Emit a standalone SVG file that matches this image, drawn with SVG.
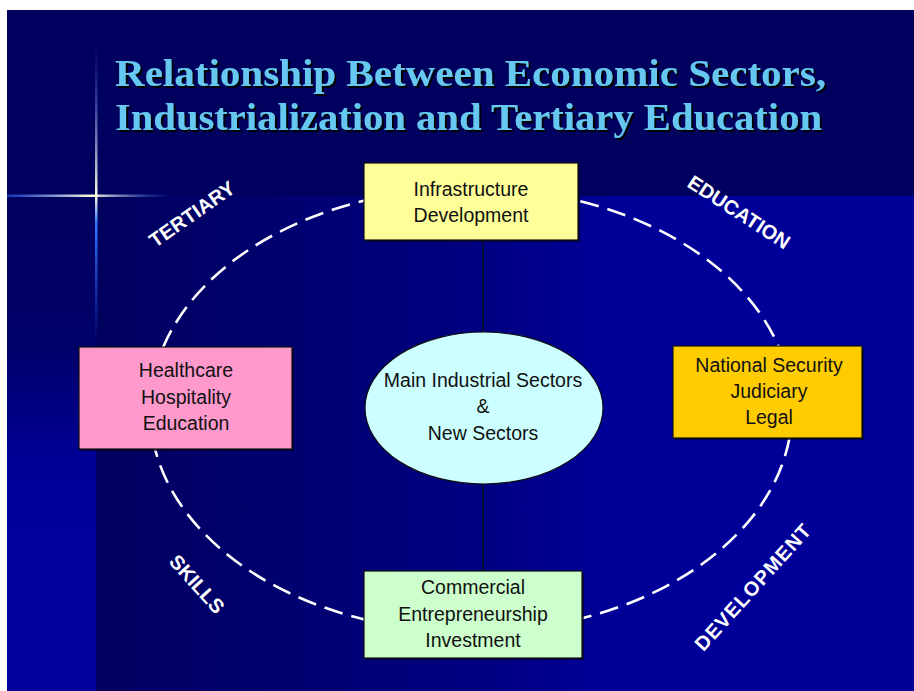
<svg xmlns="http://www.w3.org/2000/svg" width="914" height="691" viewBox="0 0 914 691">
  <defs>
    <linearGradient id="gMain" x1="96" y1="0" x2="620" y2="0" gradientUnits="userSpaceOnUse">
      <stop offset="0" stop-color="#00005e"/>
      <stop offset="0.7" stop-color="#000080"/>
      <stop offset="1" stop-color="#000099"/>
    </linearGradient>
    <linearGradient id="gLeft" x1="0" y1="196" x2="0" y2="691" gradientUnits="userSpaceOnUse">
      <stop offset="0" stop-color="#00005e"/>
      <stop offset="0.3" stop-color="#00006a"/>
      <stop offset="0.55" stop-color="#000099"/>
      <stop offset="1" stop-color="#00009c"/>
    </linearGradient>
    <linearGradient id="gSparkH" x1="7" y1="0" x2="175" y2="0" gradientUnits="userSpaceOnUse">
      <stop offset="0" stop-color="#2255ee" stop-opacity="0.6"/>
      <stop offset="0.5" stop-color="#ffffdd"/>
      <stop offset="1" stop-color="#2255ee" stop-opacity="0"/>
    </linearGradient>
    <linearGradient id="gSparkV" x1="0" y1="40" x2="0" y2="345" gradientUnits="userSpaceOnUse">
      <stop offset="0" stop-color="#2255ee" stop-opacity="0"/>
      <stop offset="0.51" stop-color="#ffffdd"/>
      <stop offset="0.6" stop-color="#3377ff"/>
      <stop offset="1" stop-color="#2255ee" stop-opacity="0"/>
    </linearGradient>
    <filter id="tshadow" x="-5%" y="-20%" width="110%" height="140%">
      <feDropShadow dx="2" dy="2" stdDeviation="0.4" flood-color="#000000" flood-opacity="1"/>
    </filter>
    <style>
      .title { font-family: "Liberation Serif", "Times New Roman", serif; font-weight: bold; font-size: 37px; fill: #66c8f0; }
      .box { stroke: #111; stroke-width: 1.2; }
      .shadow { fill: #000022; opacity: 0.7; }
      .txt { font-family: "Liberation Sans", Arial, sans-serif; font-size: 19.5px; fill: #111; text-anchor: middle; }
      .lbl { font-family: "Liberation Sans", Arial, sans-serif; font-size: 20px; font-weight: bold; fill: #fff; text-anchor: middle; }
      .conn { stroke: #111; stroke-width: 1.2; fill: none; }
    </style>
  </defs>

  <rect x="0" y="0" width="914" height="691" fill="#ffffff"/>
  <rect x="7" y="10" width="907" height="681" fill="#000099"/>
  <rect x="96" y="196" width="818" height="495" fill="url(#gMain)"/>
  <rect x="7" y="196" width="89" height="495" fill="url(#gLeft)"/>
  <rect x="7" y="10" width="907" height="186" fill="#00005e"/>
  <rect x="7" y="194.5" width="168" height="2.5" fill="url(#gSparkH)"/>
  <rect x="95" y="40" width="2.5" height="305" fill="url(#gSparkV)"/>

  <g id="title" filter="url(#tshadow)">
    <text class="title" x="115" y="86" textLength="711" lengthAdjust="spacingAndGlyphs">Relationship Between Economic Sectors,</text>
    <text class="title" x="115" y="130" textLength="707" lengthAdjust="spacingAndGlyphs">Industrialization and Tertiary Education</text>
  </g>

  <g id="ring">
    <ellipse cx="471" cy="410" rx="321" ry="222" fill="none" stroke="#ffffff" stroke-width="2.6" stroke-dasharray="19 9"/>
  </g>

  <g id="connectors">
    <line class="conn" x1="483" y1="240" x2="483" y2="333"/>
    <line class="conn" x1="483" y1="484" x2="483" y2="571"/>
  </g>

  <g id="labels">
    <text class="lbl" transform="translate(192,214) rotate(-35)" y="7">TERTIARY</text>
    <text class="lbl" transform="translate(739,212) rotate(33)" y="7">EDUCATION</text>
    <text class="lbl" transform="translate(197,584) rotate(48)" y="7">SKILLS</text>
    <text class="lbl" transform="translate(753,587) rotate(-48)" y="7" letter-spacing="1">DEVELOPMENT</text>
  </g>

  <g id="infrastructure">
    <rect class="shadow" x="366" y="165" width="214" height="77"/>
    <rect class="box" x="364" y="163" width="214" height="77" fill="#ffff99"/>
    <text class="txt" x="471" y="196">Infrastructure</text>
    <text class="txt" x="471" y="222">Development</text>
  </g>

  <g id="healthcare">
    <rect class="shadow" x="81" y="349" width="213" height="102"/>
    <rect class="box" x="79" y="347" width="213" height="102" fill="#ff99cc"/>
    <text class="txt" x="186" y="377">Healthcare</text>
    <text class="txt" x="186" y="404">Hospitality</text>
    <text class="txt" x="186" y="430">Education</text>
  </g>

  <g id="security">
    <rect class="shadow" x="675" y="348" width="189" height="92"/>
    <rect class="box" x="673" y="346" width="189" height="92" fill="#ffcc00"/>
    <text class="txt" x="769" y="372">National Security</text>
    <text class="txt" x="769" y="398">Judiciary</text>
    <text class="txt" x="769" y="424">Legal</text>
  </g>

  <g id="commercial">
    <rect class="shadow" x="366" y="573" width="218" height="87"/>
    <rect class="box" x="364" y="571" width="218" height="87" fill="#ccffcc"/>
    <text class="txt" x="473" y="594">Commercial</text>
    <text class="txt" x="473" y="621">Entrepreneurship</text>
    <text class="txt" x="473" y="647">Investment</text>
  </g>

  <g id="sectors">
    <ellipse cx="484" cy="408" rx="119" ry="76" fill="#ccffff" stroke="#111" stroke-width="1.2"/>
    <text class="txt" x="483" y="387">Main Industrial Sectors</text>
    <text class="txt" x="483" y="413">&amp;</text>
    <text class="txt" x="483" y="440">New Sectors</text>
  </g>
</svg>
